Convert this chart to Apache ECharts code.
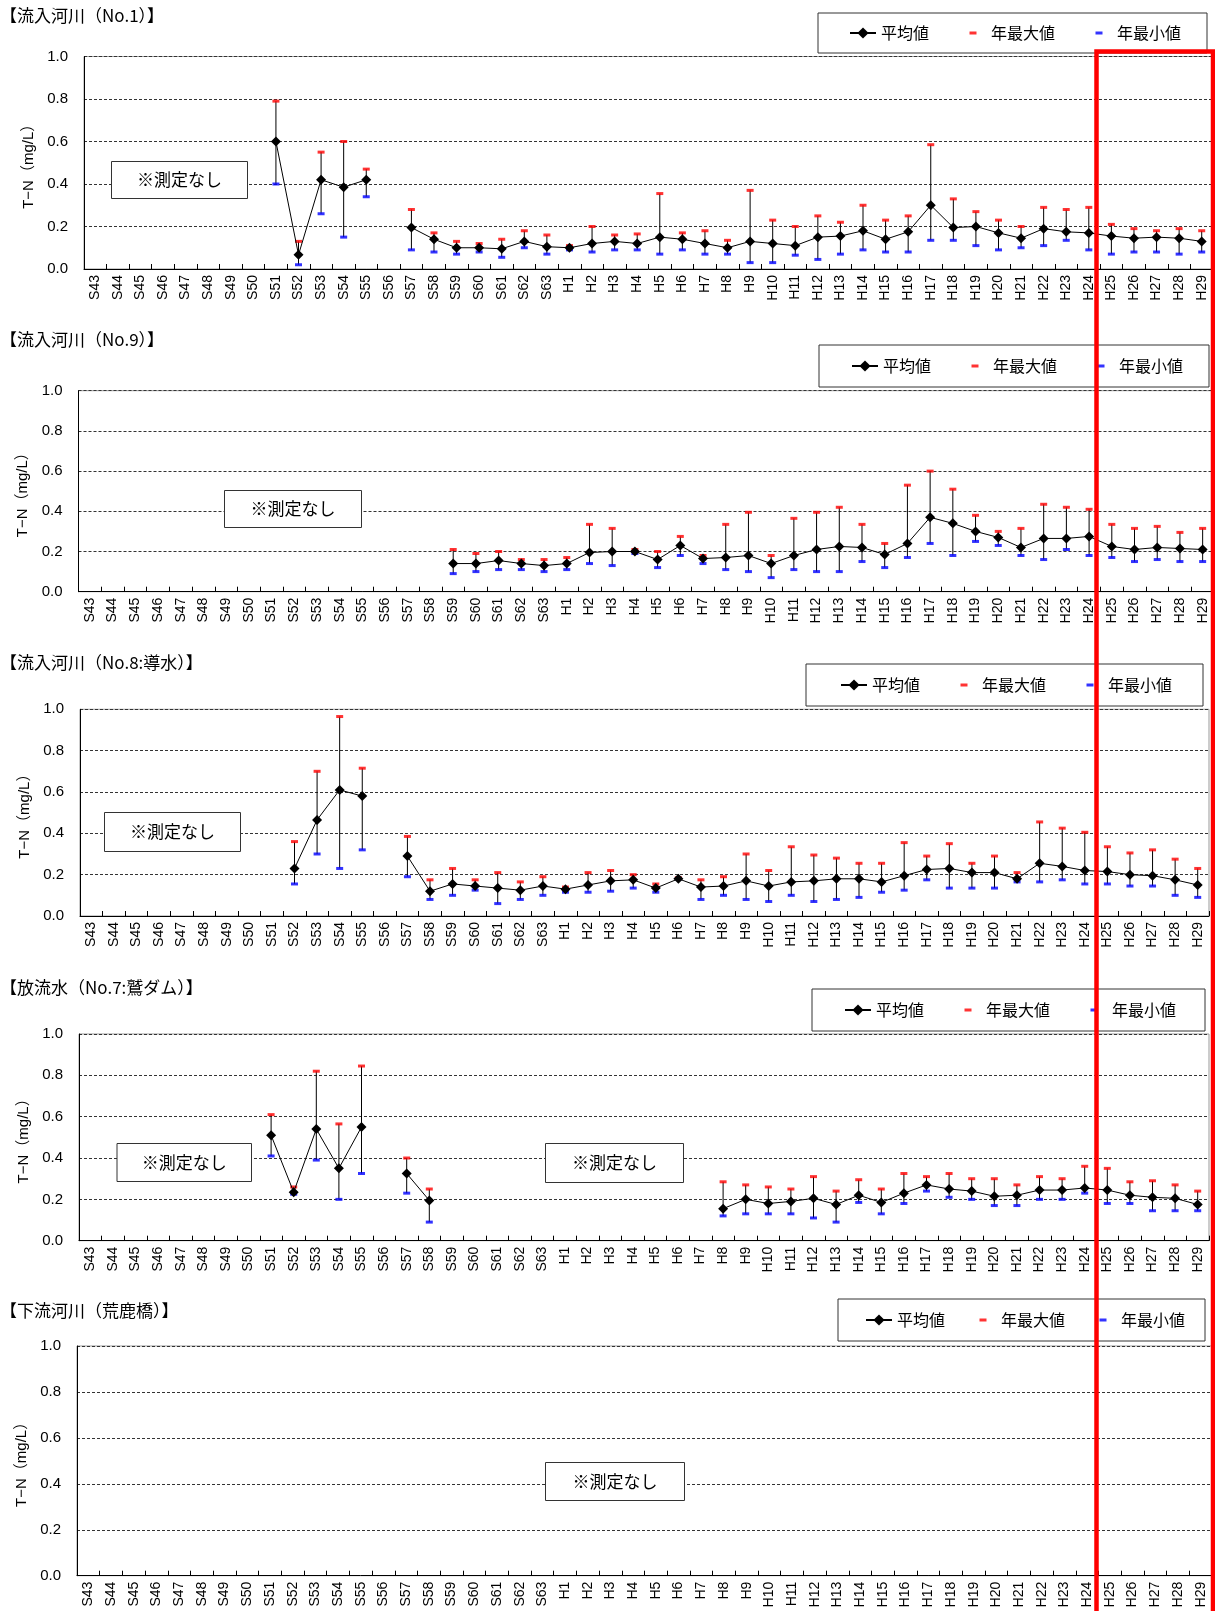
<!DOCTYPE html>
<html>
<head>
<meta charset="utf-8">
<script src="https://cdn.jsdelivr.net/npm/echarts@6/dist/echarts.min.js"></script>
<style>
  html, body { margin: 0; padding: 0; background: #fff; }
  #chart { width: 1215px; height: 1611px; }
</style>
</head>
<body>
<div id="chart"></div>
<script>
const _ = null;

// Fiscal years: Showa 43-63, Heisei 1-29
const years = [
  'S43','S44','S45','S46','S47','S48','S49','S50','S51','S52','S53','S54','S55','S56','S57','S58','S59','S60','S61','S62','S63',
  'H1','H2','H3','H4','H5','H6','H7','H8','H9','H10','H11','H12','H13','H14','H15','H16','H17','H18','H19','H20',
  'H21','H22','H23','H24','H25','H26','H27','H28','H29'
];
const yTicks = [0, 0.2, 0.4, 0.6, 0.8, 1.0];

// 流入河川(No.1)  T-N (mg/L)
const no1Mean = [_,_,_,_,_,_,_,_, 0.60,0.067,0.42,0.385,0.42,_,0.195,0.14,0.10,0.10,0.095,0.13,0.105,
  0.10,0.12,0.13,0.12,0.15,0.14,0.12,0.10,0.13,0.12,0.11,0.15,0.155,0.18,0.14,0.175,0.30,0.195,0.20,0.17,
  0.145,0.19,0.175,0.17,0.155,0.145,0.15,0.145,0.13];
const no1Max = [_,_,_,_,_,_,_,_, 0.79,0.13,0.55,0.60,0.47,_,0.28,0.17,0.13,0.12,0.14,0.18,0.16,
  0.11,0.20,0.16,0.165,0.355,0.17,0.18,0.135,0.37,0.23,0.20,0.25,0.22,0.30,0.23,0.25,0.585,0.33,0.27,0.23,
  0.20,0.29,0.28,0.29,0.21,0.19,0.18,0.19,0.18];
const no1Min = [_,_,_,_,_,_,_,_, 0.40,0.02,0.26,0.15,0.34,_,0.09,0.08,0.07,0.08,0.055,0.10,0.07,
  0.09,0.08,0.09,0.09,0.07,0.09,0.07,0.07,0.03,0.03,0.065,0.045,0.07,0.09,0.08,0.08,0.135,0.135,0.11,0.09,
  0.10,0.11,0.135,0.09,0.07,0.08,0.08,0.07,0.08];

// 流入河川(No.9)
const no9Mean = [_,_,_,_,_,_,_,_,_,_,_,_,_,_,_,_, 0.14,0.14,0.155,0.14,0.13,
  0.14,0.195,0.20,0.20,0.16,0.23,0.165,0.17,0.18,0.14,0.18,0.21,0.225,0.22,0.185,0.24,0.37,0.34,0.30,0.27,
  0.22,0.265,0.265,0.275,0.225,0.21,0.22,0.215,0.21];
const no9Max = [_,_,_,_,_,_,_,_,_,_,_,_,_,_,_,_, 0.21,0.19,0.20,0.16,0.16,
  0.17,0.335,0.315,0.21,0.20,0.275,0.18,0.335,0.395,0.18,0.365,0.395,0.42,0.335,0.24,0.53,0.60,0.51,0.38,0.30,
  0.315,0.435,0.42,0.41,0.335,0.315,0.325,0.295,0.315];
const no9Min = [_,_,_,_,_,_,_,_,_,_,_,_,_,_,_,_, 0.09,0.10,0.11,0.11,0.10,
  0.11,0.14,0.13,0.19,0.12,0.18,0.14,0.11,0.10,0.07,0.11,0.10,0.10,0.15,0.12,0.17,0.24,0.18,0.25,0.23,
  0.18,0.16,0.21,0.18,0.17,0.15,0.16,0.15,0.15];

// 流入河川(No.8:導水)
const no8Mean = [_,_,_,_,_,_,_,_,_, 0.23,0.465,0.61,0.58,_,0.29,0.12,0.155,0.145,0.135,0.125,0.145,
  0.13,0.15,0.17,0.175,0.135,0.18,0.14,0.145,0.17,0.145,0.165,0.17,0.18,0.18,0.165,0.195,0.225,0.23,0.21,0.21,
  0.18,0.255,0.24,0.22,0.215,0.20,0.195,0.175,0.15];
const no8Max = [_,_,_,_,_,_,_,_,_, 0.36,0.70,0.965,0.715,_,0.385,0.175,0.23,0.175,0.21,0.165,0.19,
  0.14,0.21,0.22,0.20,0.155,0.185,0.175,0.19,0.30,0.22,0.335,0.295,0.28,0.255,0.255,0.355,0.29,0.35,0.255,0.29,
  0.21,0.455,0.425,0.405,0.335,0.305,0.32,0.275,0.23];
const no8Min = [_,_,_,_,_,_,_,_,_, 0.155,0.30,0.23,0.32,_,0.19,0.08,0.10,0.125,0.06,0.08,0.10,
  0.115,0.115,0.12,0.135,0.115,0.18,0.08,0.10,0.08,0.07,0.10,0.07,0.08,0.09,0.115,0.125,0.175,0.135,0.135,0.135,
  0.165,0.165,0.175,0.155,0.155,0.145,0.145,0.10,0.09];

// 放流水(No.7:鷲ダム)
const no7Mean = [_,_,_,_,_,_,_,_, 0.51,0.235,0.54,0.35,0.55,_,0.325,0.195,_,_,_,_,_,
  _,_,_,_,_,_,_,0.155,0.20,0.18,0.19,0.205,0.175,0.22,0.185,0.23,0.27,0.25,0.24,0.215,
  0.22,0.245,0.245,0.255,0.245,0.22,0.21,0.205,0.175];
const no7Max = [_,_,_,_,_,_,_,_, 0.61,0.26,0.82,0.565,0.845,_,0.40,0.25,_,_,_,_,_,
  _,_,_,_,_,_,_,0.285,0.27,0.26,0.25,0.31,0.24,0.295,0.25,0.325,0.31,0.325,0.30,0.30,
  0.27,0.31,0.30,0.36,0.35,0.285,0.29,0.27,0.24];
const no7Min = [_,_,_,_,_,_,_,_, 0.41,0.225,0.39,0.20,0.325,_,0.23,0.09,_,_,_,_,_,
  _,_,_,_,_,_,_,0.12,0.13,0.13,0.13,0.11,0.09,0.185,0.13,0.18,0.24,0.21,0.20,0.17,
  0.17,0.20,0.20,0.23,0.18,0.18,0.145,0.145,0.145];

// 下流河川(荒鹿橋): no measurements
const arakashiMean = [];
const arakashiMax = [];
const arakashiMin = [];

const JP = "'Noto Sans CJK JP', 'Noto Sans', sans-serif";
const LATIN = "'Liberation Sans', Arial, 'Noto Sans CJK JP', sans-serif";

// Panel layout: plot area, legend box, "not measured" notes
const panels = [
  { title: '【流入河川（No.1）】', titleY: 17.5, mean: no1Mean, max: no1Max, min: no1Min,
    grid: { left: 84, top: 56.5, width: 1129, height: 212.5 }, nameGap: 43,
    legend: { x: 818, y: 13, pad: [12, 26, 12, 31], gap: 31 }, notes: [[111, 161, 136, 37]] },
  { title: '【流入河川（No.9）】', titleY: 341.5, mean: no9Mean, max: no9Max, min: no9Min,
    grid: { left: 78.5, top: 390.7, width: 1135.5, height: 201 }, nameGap: 40,
    legend: { x: 819, y: 345, pad: [13, 26, 13, 32], gap: 31 }, notes: [[224, 490, 137, 37]] },
  { title: '【流入河川（No.8:導水）】', titleY: 665, mean: no8Mean, max: no8Max, min: no8Min,
    grid: { left: 80, top: 709.3, width: 1129, height: 206.7 }, nameGap: 45,
    legend: { x: 806, y: 664, pad: [13, 31, 13, 34], gap: 31 }, notes: [[104, 812, 136, 39]] },
  { title: '【放流水（No.7:鷲ダム）】', titleY: 990, mean: no7Mean, max: no7Max, min: no7Min,
    grid: { left: 79, top: 1034, width: 1130, height: 206.7 }, nameGap: 38,
    legend: { x: 812, y: 989, pad: [13, 29, 13, 32], gap: 31 }, notes: [[116.5, 1143, 134.5, 38], [545, 1143, 138, 39]] },
  { title: '【下流河川（荒鹿橋）】', titleY: 1313, mean: arakashiMean, max: arakashiMax, min: arakashiMin,
    grid: { left: 77, top: 1346, width: 1135, height: 229.7 }, nameGap: 42,
    legend: { x: 838, y: 1299, pad: [13, 20, 13, 27], gap: 25 }, notes: [[545, 1462, 139, 38]] }
];

// Small centred dash used as the legend icon for the max/min markers
const dashIcon = 'path://M0,0L0.01,0ZM26,14L25.99,14ZM9.5,5.5H16.5V8.5H9.5Z';

function errorBarItem(params, api) {
  const x = api.value(0);
  const lo = api.coord([x, api.value(1)]);
  const hi = api.coord([x, api.value(2)]);
  return {
    type: 'line',
    shape: { x1: lo[0], y1: lo[1], x2: hi[0], y2: hi[1] },
    style: { stroke: '#000', lineWidth: 1 }
  };
}

const grid = [], xAxis = [], yAxis = [], series = [], legend = [], graphic = [];

panels.forEach((p, k) => {
  grid.push(Object.assign({ show: true, borderColor: '#999', borderWidth: 1, backgroundColor: 'transparent' }, p.grid));
  xAxis.push({
    type: 'category', gridIndex: k, data: years, boundaryGap: true,
    axisLine: { lineStyle: { color: '#000', width: 1 } },
    axisTick: { show: true, inside: true, length: 5, interval: 0, lineStyle: { color: '#000' } },
    axisLabel: { interval: 0, rotate: 90, margin: 6, fontSize: 14, color: '#000', fontFamily: LATIN },
    splitLine: { show: false }
  });
  yAxis.push({
    type: 'value', gridIndex: k, min: yTicks[0], max: yTicks[yTicks.length - 1], interval: 0.2,
    name: 'T−N（mg/L）', nameLocation: 'middle', nameGap: p.nameGap, nameRotate: 90,
    nameTextStyle: { fontSize: 15, color: '#000', fontFamily: LATIN },
    axisLine: { show: true, lineStyle: { color: '#000', width: 1 } },
    axisTick: { show: false },
    axisLabel: { margin: 16, fontSize: 15, color: '#000', fontFamily: LATIN, formatter: v => v.toFixed(1) },
    splitLine: { show: true, lineStyle: { color: '#333', width: 1, type: [3, 2] } }
  });

  const bars = [];
  p.mean.forEach((m, i) => {
    if (p.min[i] != null && p.max[i] != null) bars.push([i, p.min[i], p.max[i]]);
  });

  series.push({
    type: 'custom', name: 'range', xAxisIndex: k, yAxisIndex: k,
    renderItem: errorBarItem, encode: { x: 0, y: [1, 2] }, data: bars, z: 2,
    silent: true, animation: false
  });
  series.push({
    type: 'scatter', name: '年最大値', xAxisIndex: k, yAxisIndex: k,
    data: p.max, symbol: 'rect', symbolSize: [7, 3],
    itemStyle: { color: '#ff0000' }, z: 3, animation: false
  });
  series.push({
    type: 'scatter', name: '年最小値', xAxisIndex: k, yAxisIndex: k,
    data: p.min, symbol: 'rect', symbolSize: [7, 3],
    itemStyle: { color: '#0000ff' }, z: 3, animation: false
  });
  series.push({
    type: 'line', name: '平均値', xAxisIndex: k, yAxisIndex: k,
    data: p.mean, connectNulls: false, showAllSymbol: true,
    symbol: 'diamond', symbolSize: 10,
    itemStyle: { color: '#000' }, lineStyle: { color: '#000', width: 1 },
    z: 4, animation: false
  });

  legend.push({
    left: p.legend.x, top: p.legend.y, orient: 'horizontal',
    padding: p.legend.pad, itemGap: p.legend.gap, itemWidth: 26, itemHeight: 14,
    borderColor: '#333', borderWidth: 1, backgroundColor: '#fff',
    selectedMode: false,
    textStyle: { fontSize: 16, color: '#000', fontFamily: JP },
    data: [
      { name: '平均値' },
      { name: '年最大値', icon: dashIcon },
      { name: '年最小値', icon: dashIcon }
    ]
  });

  graphic.push({
    type: 'text', left: 0, top: p.titleY - 10.5, z: 50,
    style: { text: p.title, font: '17px ' + JP, fill: '#000' }
  });
  p.notes.forEach(n => {
    graphic.push({
      type: 'group', left: n[0], top: n[1], z: 50,
      children: [
        { type: 'rect', z: 50, shape: { x: 0, y: 0, width: n[2], height: n[3] },
          style: { fill: '#fff', stroke: '#333', lineWidth: 1 } },
        { type: 'text', z: 51, x: n[2] / 2, y: n[3] / 2,
          style: { text: '※測定なし', font: '17px ' + JP, fill: '#000', align: 'center', verticalAlign: 'middle' } }
      ]
    });
  });
});

// Highlighted period H25–H29
graphic.push({
  type: 'rect', z: 100,
  shape: { x: 1096.5, y: 51.5, width: 116.5, height: 1600 },
  style: { fill: 'none', stroke: '#ff0000', lineWidth: 4.5 }
});

const chart = echarts.init(document.getElementById('chart'), null, { renderer: 'canvas' });
chart.setOption({
  backgroundColor: '#fff',
  animation: false,
  grid, xAxis, yAxis, series, legend, graphic
});
</script>
</body>
</html>
